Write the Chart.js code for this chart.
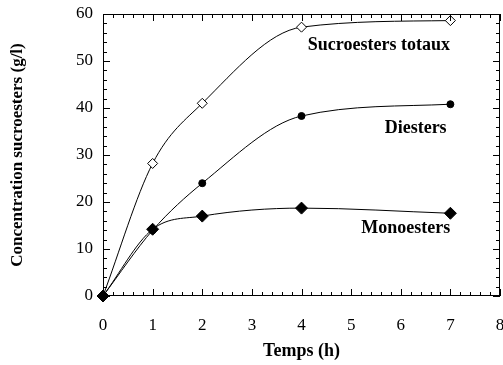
<!DOCTYPE html>
<html>
<head>
<meta charset="utf-8">
<script src="https://cdn.jsdelivr.net/npm/chart.js@4.4.1/dist/chart.umd.min.js"></script>
<style>
    html, body { margin: 0; padding: 0; background: #fff; overflow: hidden; }
    #wrap { width: 503px; height: 365px; }
</style>
</head>
<body>
<div id="wrap"><canvas id="plot"></canvas></div>
<script>
"use strict";

// values
const temps = [0, 1, 2, 4, 7];
const totaux = [0, 28.2, 41, 57.2, 58.6];
const diesters = [0, 14, 24, 38.3, 40.8];
const monoesters = [0, 14.2, 17, 18.7, 17.6];

const xTicks = [0, 1, 2, 3, 4, 5, 6, 7, 8];
const yTicks = [0, 10, 20, 30, 40, 50, 60];

const curveLabels = [
    { text: 'Sucroesters totaux', x: 5.56, y: 53.4 },
    { text: 'Diesters', x: 6.3, y: 35.7 },
    { text: 'Monoesters', x: 6.1, y: 14.3 },
];

const serif = '"Liberation Serif", "DejaVu Serif", serif';

function pts(xs, ys) {
    return xs.map((x, i) => ({ x: x, y: ys[i] }));
}

// inward ticks on all four sides, plus top/right frame and curve labels
const framePlugin = {
    id: 'frame',
    afterDraw(chart) {
        const ctx = chart.ctx;
        const xs = chart.scales.x;
        const ys = chart.scales.y;
        const a = chart.chartArea;
        ctx.save();
        ctx.strokeStyle = '#000';
        ctx.lineWidth = 1;
        ctx.strokeRect(a.left + 0.5, a.top + 0.5, a.right - a.left - 1, a.bottom - a.top - 1);
        ctx.beginPath();
        for (let v = 0; v <= 8.001; v += 0.2) {
            const major = Math.abs(v - Math.round(v)) < 1e-6;
            const len = major ? 7 : 4;
            const px = Math.round(xs.getPixelForValue(v)) + 0.5;
            ctx.moveTo(px, a.bottom); ctx.lineTo(px, a.bottom - len);
            ctx.moveTo(px, a.top); ctx.lineTo(px, a.top + len);
        }
        for (let v = 0; v <= 60.001; v += 2) {
            const major = v % 10 === 0;
            const len = major ? 7 : 4;
            const py = Math.round(ys.getPixelForValue(v)) + 0.5;
            ctx.moveTo(a.left, py); ctx.lineTo(a.left + len, py);
            ctx.moveTo(a.right, py); ctx.lineTo(a.right - len, py);
        }
        ctx.stroke();

        ctx.fillStyle = '#000';
        ctx.font = 'bold 18px ' + serif;
        ctx.textAlign = 'center';
        ctx.textBaseline = 'middle';
        curveLabels.forEach(l => {
            ctx.fillText(l.text, xs.getPixelForValue(l.x), ys.getPixelForValue(l.y));
        });
        ctx.restore();
    }
};

new Chart(document.getElementById('plot'), {
    type: 'line',
    data: {
        datasets: [{
            label: 'Monoesters',
            data: pts(temps, monoesters),
            order: 0,
            borderColor: '#000',
            borderWidth: 1,
            pointStyle: 'rectRot',
            pointRadius: 6,
            pointBackgroundColor: '#000',
            pointBorderColor: '#000',
            cubicInterpolationMode: 'monotone',
        }, {
            label: 'Diesters',
            data: pts(temps, diesters),
            order: 1,
            borderColor: '#000',
            borderWidth: 1,
            pointStyle: 'circle',
            pointRadius: 3.5,
            pointBackgroundColor: '#000',
            pointBorderColor: '#000',
            cubicInterpolationMode: 'monotone',
        }, {
            label: 'Sucroesters totaux',
            data: pts(temps, totaux),
            order: 2,
            borderColor: '#000',
            borderWidth: 1,
            pointStyle: 'rectRot',
            pointRadius: 5,
            pointBackgroundColor: '#fff',
            pointBorderColor: '#000',
            cubicInterpolationMode: 'monotone',
        }]
    },
    options: {
        responsive: true,
        maintainAspectRatio: false,
        animation: false,
        clip: false,
        layout: { autoPadding: false, padding: { top: 14, right: 3, left: 0, bottom: 0 } },
        plugins: { legend: { display: false }, tooltip: { enabled: false } },
        scales: {
            x: {
                type: 'linear',
                min: 0, max: 8,
                afterFit: s => { s.height = 69; s.paddingLeft = 0; s.paddingRight = 0; },
                afterBuildTicks: s => { s.ticks = xTicks.map(v => ({ value: v })); },
                grid: { display: false, drawTicks: false },
                border: { display: false },
                ticks: { color: '#000', padding: 19, maxRotation: 0, font: { family: serif, size: 17 } },
                title: {
                    display: true, text: 'Temps (h)', color: '#000',
                    font: { family: serif, size: 18, weight: 'bold' },
                    padding: { top: 0, bottom: 3 }
                }
            },
            y: {
                type: 'linear',
                min: 0, max: 60,
                afterFit: s => { s.width = 103; s.paddingTop = 0; s.paddingBottom = 0; },
                afterBuildTicks: s => { s.ticks = yTicks.map(v => ({ value: v })); },
                grid: { display: false, drawTicks: false },
                border: { display: false },
                ticks: { color: '#000', padding: 10, font: { family: serif, size: 17 } },
                title: {
                    display: true, text: 'Concentration sucroesters (g/l)', color: '#000',
                    font: { family: serif, size: 17, weight: 'bold' },
                    padding: { top: 7, bottom: 0 }
                }
            }
        }
    },
    plugins: [framePlugin]
});
</script>
</body>
</html>
